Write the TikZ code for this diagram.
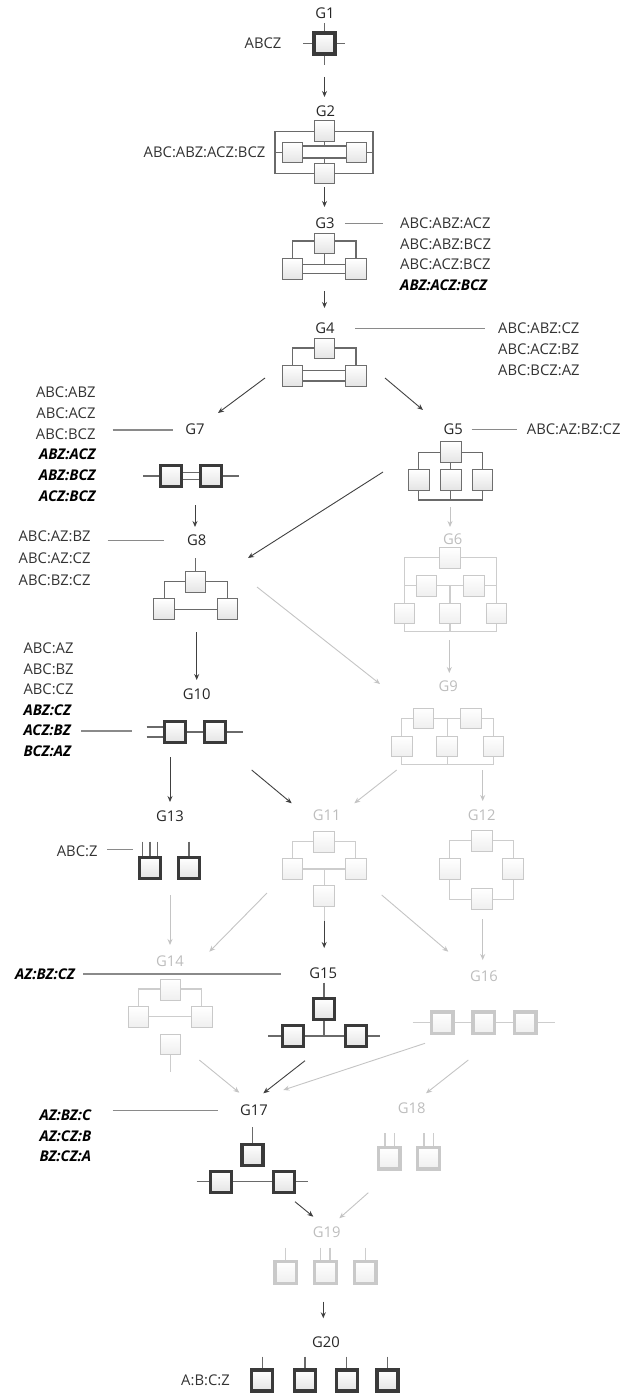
\documentclass[tikz,border=0pt]{standalone}
\usepackage{fontspec}
\setmainfont{Open Sans}
\usetikzlibrary{arrows.meta}
\pgfdeclarelayer{bg}
\pgfsetlayers{bg,main}
\definecolor{txt}{HTML}{333333}
\definecolor{gcol}{HTML}{262626}
\definecolor{glight}{HTML}{BDBDBD}
\definecolor{sline}{HTML}{6A6A6A}
\definecolor{lline}{HTML}{CDCDCD}
\definecolor{bord}{HTML}{6E6E6E}
\definecolor{tbord}{HTML}{3A3A3A}
\definecolor{lbord}{HTML}{C9C9C9}
\definecolor{fillc}{HTML}{E4E4E4}
\definecolor{lfill}{HTML}{EFEFEF}
\definecolor{cline}{HTML}{8A8A8A}
\definecolor{arrd}{HTML}{404040}
\definecolor{arrl}{HTML}{C4C4C4}
\newcommand\myfs{\fontsize{14.8}{17}\selectfont}
\begin{document}
\begin{tikzpicture}[x=1pt,y=-1pt,
  txtn/.style={font=\myfs, text=txt, inner sep=0pt},
  bi/.style={font=\myfs\bfseries\itshape, text=black, inner sep=0pt},
  gd/.style={font=\myfs, text=gcol, inner sep=0pt},
  gli/.style={font=\myfs, text=glight, inner sep=0pt},
  nb/.style={rectangle, draw=bord, line width=1pt, top color=white, bottom color=fillc, minimum size=20.5pt, inner sep=0pt},
  tb/.style={rectangle, draw=tbord, line width=3.2pt, top color=white, bottom color=fillc, minimum size=21pt, inner sep=0pt},
  lb/.style={rectangle, draw=lbord, line width=1pt, top color=white, bottom color=lfill, minimum size=20.5pt, inner sep=0pt},
  ltb/.style={rectangle, draw=lbord, line width=3.4pt, top color=white, bottom color=lfill, minimum size=21.5pt, inner sep=0pt},
  sl/.style={draw=sline, line width=1.2pt},
  lsl/.style={draw=lline, line width=1.2pt},
  cl/.style={draw=cline, line width=1.4pt},
  da/.style={draw=arrd, line width=0.9pt, -{Stealth[length=6pt,width=5pt]}},
  la/.style={draw=arrl, line width=0.9pt, -{Stealth[length=6pt,width=5pt]}},
]
\useasboundingbox (0,0) rectangle (625,1394);

% ---------- G1
\node[gd] (g1) at (325,13) {G1};
\node[tb] (b1) at (324.5,43.5) {};
\node[txtn] (t1) at (263,43.5) {ABCZ};
\begin{pgfonlayer}{bg}
\draw[sl] (303,43.5) -- (345,43.5) (324.5,23) -- (324.5,65);
\end{pgfonlayer}
\draw[da] (324.5,77) coordinate (a1s) -- (324.5,97) coordinate (a1e);

% ---------- G2
\node[gd] (g2) at (325.5,111.5) {G2};
\node[nb] (b2t) at (324.5,131.2) {};
\node[nb] (b2l) at (292.5,152.5) {};
\node[nb] (b2r) at (356.5,152.5) {};
\node[nb] (b2b) at (324.5,173.3) {};
\node[txtn, anchor=east] (t2) at (265.5,152.5) {ABC:ABZ:ACZ:BCZ};
\begin{pgfonlayer}{bg}
\draw[sl] (275,131.2) rectangle (373,173.3);
\draw[sl] (275,152.5) -- (b2l.center) (b2r.center) -- (373,152.5);
\draw[sl] (292.5,146) -- (356.5,146) (292.5,158) -- (356.5,158);
\draw[sl] (324.5,131) -- (324.5,146) (324.5,158) -- (324.5,173);
\end{pgfonlayer}
\draw[da] (324.5,187) coordinate (a2s) -- (324.5,207) coordinate (a2e);

% ---------- G3
\node[gd] (g3) at (325,223.3) {G3};
\draw[cl] (g3.east) ++(10,0) coordinate (c3s) -- (383,223.3) coordinate (c3e);
\node[txtn, anchor=west] (t3a) at (400,223.3) {ABC:ABZ:ACZ};
\node[txtn, anchor=west] (t3b) at (400,244) {ABC:ABZ:BCZ};
\node[txtn, anchor=west] (t3c) at (400,264.5) {ABC:ACZ:BCZ};
\node[bi, anchor=west] (t3d) at (400,285) {ABZ:ACZ:BCZ};
\node[nb] (b3t) at (324.7,243.3) {};
\node[nb] (b3l) at (292.5,269.2) {};
\node[nb] (b3r) at (356,269.2) {};
\begin{pgfonlayer}{bg}
\draw[sl] (292.7,262) -- (292.7,241) -- (356,241) -- (356,262);
\draw[sl] (292.5,264.3) -- (356,264.3) (292.5,273.8) -- (356,273.8);
\draw[sl] (324.7,243) -- (324.7,264.3);
\end{pgfonlayer}
\draw[da] (324.5,291) coordinate (a3s) -- (324.5,308) coordinate (a3e);

% ---------- G4
\node[gd] (g4) at (325,328.3) {G4};
\draw[cl] (355,328.3) coordinate (c4s) -- (485,328.3) coordinate (c4e);
\node[txtn, anchor=west] (t4a) at (498,328.3) {ABC:ABZ:CZ};
\node[txtn, anchor=west] (t4b) at (498,349.5) {ABC:ACZ:BZ};
\node[txtn, anchor=west] (t4c) at (498,370.7) {ABC:BCZ:AZ};
\node[nb] (b4t) at (324.7,348.3) {};
\node[nb] (b4l) at (292.5,375.8) {};
\node[nb] (b4r) at (356,375.8) {};
\begin{pgfonlayer}{bg}
\draw[sl] (292.7,368) -- (292.7,348) -- (356,348) -- (356,368);
\draw[sl] (292.5,370.5) -- (356,370.5) (292.5,381) -- (356,381);
\end{pgfonlayer}
\draw[da] (265,378) coordinate (a47s) -- (218,413) coordinate (a47e);
\draw[da] (385,378) coordinate (a45s) -- (423,410) coordinate (a45e);

% ---------- G7
\node[gd] (g7) at (195,429.3) {G7};
\draw[cl] (112.7,430) coordinate (c7s) -- (172.7,430) coordinate (c7e);
\node[txtn, anchor=east] (t7a) at (95.7,392.5) {ABC:ABZ};
\node[txtn, anchor=east] (t7b) at (95.7,413.2) {ABC:ACZ};
\node[txtn, anchor=east] (t7c) at (95.7,433.9) {ABC:BCZ};
\node[bi, anchor=east] (t7d) at (95.7,454.6) {ABZ:ACZ};
\node[bi, anchor=east] (t7e) at (95.7,475.3) {ABZ:BCZ};
\node[bi, anchor=east] (t7f) at (95.7,496) {ACZ:BCZ};
\node[tb] (b7a) at (171.3,476) {};
\node[tb] (b7b) at (210.7,476) {};
\begin{pgfonlayer}{bg}
\draw[sl] (143.3,476) -- (171.3,476) (210.7,476) -- (239,476);
\draw[sl] (171.3,472.3) -- (210.7,472.3) (171.3,479.7) -- (210.7,479.7);
\end{pgfonlayer}
\draw[da] (195,505) coordinate (a78s) -- (195,527) coordinate (a78e);

% ---------- G8
\node[gd] (g8) at (196.7,540.7) {G8};
\draw[cl] (107.7,540.5) coordinate (c8s) -- (164.3,540.5) coordinate (c8e);
\node[txtn, anchor=east] (t8a) at (90.7,536.7) {ABC:AZ:BZ};
\node[txtn, anchor=east] (t8b) at (90.7,558.5) {ABC:AZ:CZ};
\node[txtn, anchor=east] (t8c) at (90.7,580) {ABC:BZ:CZ};
\node[nb] (b8t) at (195.3,582.2) {};
\node[nb] (b8l) at (164.2,609.2) {};
\node[nb] (b8r) at (227.5,609.2) {};
\begin{pgfonlayer}{bg}
\draw[sl] (195.3,558.3) -- (195.3,582);
\draw[sl] (164.2,600) -- (164.2,581.7) -- (227.5,581.7) -- (227.5,600);
\draw[sl] (164.2,609.3) -- (227.5,609.3);
\end{pgfonlayer}
\draw[da] (383,472) coordinate (a58s) -- (248,558) coordinate (a58e);
\draw[la] (257,587) coordinate (a89s) -- (380,684) coordinate (a89e);

% ---------- G5
\node[gd] (g5) at (453.3,429.3) {G5};
\draw[cl] (471.7,429.3) coordinate (c5s) -- (516.7,429.3) coordinate (c5e);
\node[txtn, anchor=west] (t5) at (526.7,429.3) {ABC:AZ:BZ:CZ};
\node[nb] (b5t) at (450.8,452.2) {};
\node[nb] (b5a) at (418.8,480) {};
\node[nb] (b5b) at (450.8,480) {};
\node[nb] (b5c) at (482.5,480) {};
\begin{pgfonlayer}{bg}
\draw[sl] (418.8,480) -- (418.8,452.7) -- (482.5,452.7) -- (482.5,480);
\draw[sl] (450.8,452) -- (450.8,480);
\draw[sl] (418.8,480) -- (418.8,500) -- (482.5,500) -- (482.5,480);
\draw[sl] (450.8,480) -- (450.8,500);
\end{pgfonlayer}
\draw[la] (450,507) coordinate (a56s) -- (450,527) coordinate (a56e);

% ---------- G6
\node[gli] (g6) at (452.7,539.3) {G6};
\node[lb] (b6t) at (450,557.8) {};
\node[lb] (b6m1) at (426.7,585.8) {};
\node[lb] (b6m2) at (474.2,585.8) {};
\node[lb] (b6b1) at (404.5,613.3) {};
\node[lb] (b6b2) at (450,613.3) {};
\node[lb] (b6b3) at (496.5,613.3) {};
\begin{pgfonlayer}{bg}
\draw[lsl] (404.5,613) -- (404.5,557.3) -- (496.5,557.3) -- (496.5,613);
\draw[lsl] (404.5,585.7) -- (496.5,585.7);
\draw[lsl] (450,585.7) -- (450,613);
\draw[lsl] (404.5,613) -- (404.5,631.7) -- (496.5,631.7) -- (496.5,613);
\draw[lsl] (450,613) -- (450,631.7);
\end{pgfonlayer}
\draw[la] (449.3,640) coordinate (a69s) -- (449.3,673) coordinate (a69e);

% ---------- G9
\node[gli] (g9) at (448.3,686.7) {G9};
\node[lb] (b9t1) at (423.3,718.3) {};
\node[lb] (b9t2) at (470.8,718.3) {};
\node[lb] (b9b1) at (401.8,746.5) {};
\node[lb] (b9b2) at (447.2,746.5) {};
\node[lb] (b9b3) at (493.5,746.5) {};
\begin{pgfonlayer}{bg}
\draw[lsl] (401.8,746) -- (401.8,718.3) -- (493.5,718.3) -- (493.5,746);
\draw[lsl] (447.2,718.3) -- (447.2,746);
\draw[lsl] (401.8,746) -- (401.8,764.3) -- (493.5,764.3) -- (493.5,746);
\draw[lsl] (447.2,746) -- (447.2,764.3);
\end{pgfonlayer}
\draw[la] (396.7,770) coordinate (a911s) -- (354.3,803.3) coordinate (a911e);
\draw[la] (482.7,770) coordinate (a912s) -- (482.7,801) coordinate (a912e);

% ---------- G10
\node[gd] (g10) at (196.7,694) {G10};
\draw[cl] (81,731) coordinate (c10s) -- (131.7,731) coordinate (c10e);
\node[txtn, anchor=west] (t10a) at (23.3,648.3) {ABC:AZ};
\node[txtn, anchor=west] (t10b) at (23.3,669) {ABC:BZ};
\node[txtn, anchor=west] (t10c) at (23.3,689.5) {ABC:CZ};
\node[bi, anchor=west] (t10d) at (23.3,710) {ABZ:CZ};
\node[bi, anchor=west] (t10e) at (23.3,730.7) {ACZ:BZ};
\node[bi, anchor=west] (t10f) at (23.3,751) {BCZ:AZ};
\node[tb] (b10a) at (175.3,732) {};
\node[tb] (b10b) at (215.2,732) {};
\begin{pgfonlayer}{bg}
\draw[sl] (146.7,727) -- (175.3,727) (146.7,737) -- (175.3,737);
\draw[sl] (175.3,732) -- (215.2,732) -- (243.3,732);
\end{pgfonlayer}
\draw[da] (196.7,632) coordinate (a810s) -- (196.7,680) coordinate (a810e);
\draw[da] (170,757) coordinate (a1013s) -- (170,802) coordinate (a1013e);
\draw[da] (251.7,770) coordinate (a1011s) -- (291.7,803.3) coordinate (a1011e);

% ---------- G11
\node[gli] (g11) at (326.7,815.7) {G11};
\node[lb] (b11t) at (324.2,842.2) {};
\node[lb] (b11l) at (292.5,869.2) {};
\node[lb] (b11r) at (355.8,869.2) {};
\node[lb] (b11b) at (324.2,895.8) {};
\begin{pgfonlayer}{bg}
\draw[lsl] (292.5,869) -- (292.5,841.7) -- (355.8,841.7) -- (355.8,869);
\draw[lsl] (292.5,869) -- (355.8,869);
\draw[lsl] (324.2,869) -- (324.2,921);
\end{pgfonlayer}
\draw[da] (324.2,921) coordinate (a1115s) -- (324.2,948) coordinate (a1115e);

% ---------- G12
\node[gli] (g12) at (481.7,815.7) {G12};
\node[lb] (b12t) at (481.8,840.8) {};
\node[lb] (b12l) at (449.8,869.2) {};
\node[lb] (b12r) at (513.2,869.2) {};
\node[lb] (b12b) at (481.8,899.2) {};
\begin{pgfonlayer}{bg}
\draw[lsl] (449.8,840.8) rectangle (513.2,899.2);
\end{pgfonlayer}
\draw[la] (482.7,919.3) coordinate (a1216s) -- (482.7,960) coordinate (a1216e);

% ---------- G13
\node[gd] (g13) at (170,816.7) {G13};
\node[txtn, anchor=east] (t13) at (97.7,851) {ABC:Z};
\draw[cl] (107.3,849.3) coordinate (c13s) -- (133.3,849.3) coordinate (c13e);
\node[tb] (b13a) at (150,868) {};
\node[tb] (b13b) at (189,868) {};
\begin{pgfonlayer}{bg}
\draw[sl] (142.7,841.7) -- (142.7,868) (150,841.7) -- (150,868) (157.3,841.7) -- (157.3,868);
\draw[sl] (189,841.7) -- (189,868);
\end{pgfonlayer}
\draw[la] (170,895) coordinate (a1314s) -- (170,945) coordinate (a1314e);
\draw[la] (267,893) coordinate (a1114s) -- (209.3,951.7) coordinate (a1114e);
\draw[la] (381.7,895) coordinate (a1116s) -- (448.3,951.7) coordinate (a1116e);

% ---------- G14
\node[gli] (g14) at (170,961.7) {G14};
\draw[cl] (83.3,974) coordinate (c15s) -- (281,974) coordinate (c15e);
\node[bi, anchor=east] (t15) at (75,974) {AZ:BZ:CZ};
\node[lb] (b14t) at (170.5,990) {};
\node[lb] (b14l) at (138.5,1017.2) {};
\node[lb] (b14r) at (201.8,1017.2) {};
\node[lb] (b14b) at (170.5,1044.5) {};
\begin{pgfonlayer}{bg}
\draw[lsl] (138.5,1017) -- (138.5,989) -- (201.8,989) -- (201.8,1017);
\draw[lsl] (138.5,1016.7) -- (201.8,1016.7);
\draw[lsl] (170.5,1044.5) -- (170.5,1071.7);
\end{pgfonlayer}

% ---------- G15
\node[gd] (g15) at (323.3,973.3) {G15};
\node[tb] (b15t) at (324,1009.3) {};
\node[tb] (b15a) at (292.7,1036.3) {};
\node[tb] (b15b) at (356,1036.3) {};
\begin{pgfonlayer}{bg}
\draw[sl] (324,982.7) -- (324,1036);
\draw[sl] (268.3,1036) -- (380,1036);
\end{pgfonlayer}

% ---------- G16
\node[gli] (g16) at (484,976) {G16};
\node[ltb] (b16a) at (442.2,1022.8) {};
\node[ltb] (b16b) at (483.8,1022.8) {};
\node[ltb] (b16c) at (525.3,1022.8) {};
\begin{pgfonlayer}{bg}
\draw[lsl] (412.7,1022.7) -- (555,1022.7);
\end{pgfonlayer}
\draw[la] (199.3,1060) coordinate (a1417s) -- (239.3,1092.7) coordinate (a1417e);
\draw[da] (305,1060.7) coordinate (a1517s) -- (263.3,1093.3) coordinate (a1517e);
\draw[la] (425,1043.3) coordinate (a1617s) -- (283.3,1090) coordinate (a1617e);
\draw[la] (468.3,1060) coordinate (a1618s) -- (426,1093.3) coordinate (a1618e);

% ---------- G17
\node[gd] (g17) at (254,1110) {G17};
\draw[cl] (112.7,1110.7) coordinate (c17s) -- (218.3,1110.7) coordinate (c17e);
\node[bi, anchor=west] (t17a) at (39.3,1115) {AZ:BZ:C};
\node[bi, anchor=west] (t17b) at (39.3,1136) {AZ:CZ:B};
\node[bi, anchor=west] (t17c) at (39.3,1156) {BZ:CZ:A};
\node[tb] (b17t) at (252.5,1154.7) {};
\node[tb] (b17a) at (220.8,1181.7) {};
\node[tb] (b17b) at (283.8,1181.7) {};
\begin{pgfonlayer}{bg}
\draw[sl] (252.5,1127.3) -- (252.5,1154);
\draw[sl] (196.7,1181.7) -- (308.3,1181.7);
\end{pgfonlayer}

% ---------- G18
\node[gli] (g18) at (411.7,1108.3) {G18};
\node[ltb] (b18a) at (389.2,1158.3) {};
\node[ltb] (b18b) at (428.5,1158.3) {};
\begin{pgfonlayer}{bg}
\draw[lsl] (385,1133.3) -- (385,1158) (394.3,1133.3) -- (394.3,1158);
\draw[lsl] (424,1133.3) -- (424,1158) (433.3,1133.3) -- (433.3,1158);
\end{pgfonlayer}
\draw[da] (295,1201.7) coordinate (a1719s) -- (313.3,1216.7) coordinate (a1719e);
\draw[la] (368.3,1192.7) coordinate (a1819s) -- (339.3,1218.3) coordinate (a1819e);

% ---------- G19
\node[gli] (g19) at (326.7,1231.7) {G19};
\node[ltb] (b19a) at (285.8,1272.5) {};
\node[ltb] (b19b) at (325.5,1272.5) {};
\node[ltb] (b19c) at (365.2,1272.5) {};
\begin{pgfonlayer}{bg}
\draw[lsl] (285.8,1247.7) -- (285.8,1272);
\draw[lsl] (320.5,1247.7) -- (320.5,1272) (330,1247.7) -- (330,1272);
\draw[lsl] (365.2,1247.7) -- (365.2,1272);
\end{pgfonlayer}
\draw[da] (323.3,1301.7) coordinate (a1920s) -- (323.3,1318.3) coordinate (a1920e);

% ---------- G20
\node[gd] (g20) at (326,1341.7) {G20};
\node[txtn, anchor=east] (t20) at (230,1380.7) {A:B:C:Z};
\node[tb] (b20a) at (262.2,1380.5) {};
\node[tb] (b20b) at (305,1380.5) {};
\node[tb] (b20c) at (346.7,1380.5) {};
\node[tb] (b20d) at (387.5,1380.5) {};
\begin{pgfonlayer}{bg}
\draw[sl] (262.2,1356.7) -- (262.2,1380) (305,1356.7) -- (305,1380);
\draw[sl] (346.7,1356.7) -- (346.7,1380) (387.5,1356.7) -- (387.5,1380);
\end{pgfonlayer}
\end{tikzpicture}
\end{document}
